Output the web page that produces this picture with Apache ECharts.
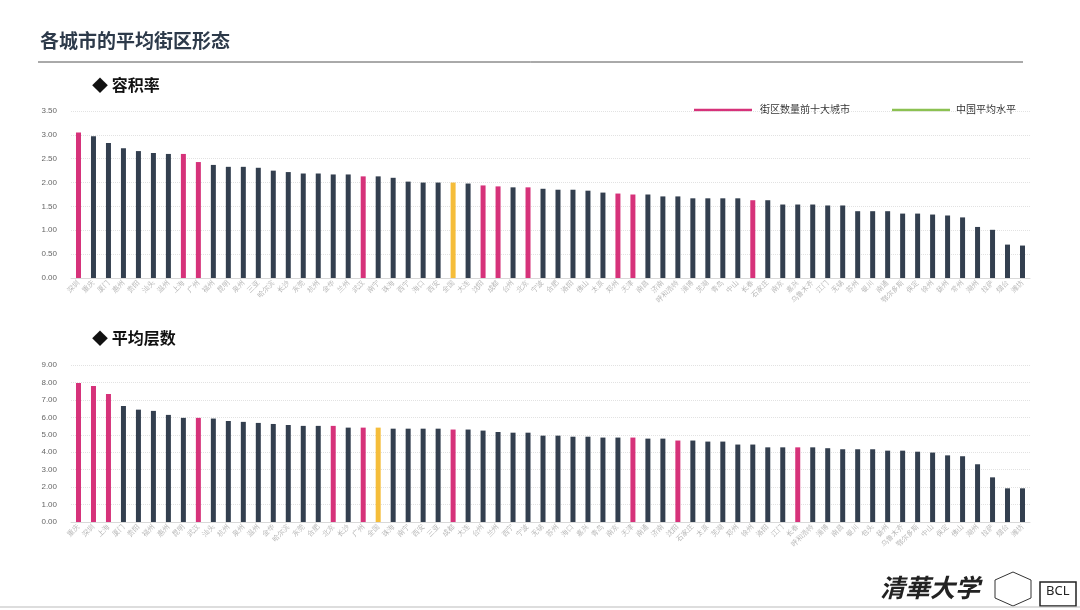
<!DOCTYPE html>
<html><head><meta charset="utf-8">
<script src="https://cdn.jsdelivr.net/npm/echarts@6/dist/echarts.min.js"></script>
<style>html,body{margin:0;padding:0;background:#fff}#c{width:1080px;height:610px}</style>
</head><body><div id="c"></div>
<script>
const farCities = ["深圳","重庆","厦门","惠州","贵阳","汕头","温州","上海","广州","福州","昆明","泉州","三亚","哈尔滨","长沙","东莞","杭州","金华","兰州","武汉","南宁","珠海","西宁","海口","西安","全国","大连","沈阳","成都","台州","北京","宁波","合肥","洛阳","佛山","太原","郑州","天津","南昌","济南","呼和浩特","淄博","芜湖","青岛","中山","长春","石家庄","南京","嘉兴","乌鲁木齐","江门","无锡","苏州","银川","南通","鄂尔多斯","保定","徐州","扬州","常州","湖州","拉萨","烟台","潍坊"];
const farValues = [3.05,2.97,2.83,2.72,2.66,2.62,2.60,2.60,2.43,2.37,2.33,2.33,2.31,2.25,2.22,2.19,2.19,2.17,2.17,2.13,2.13,2.10,2.02,2.00,2.00,2.00,1.98,1.94,1.92,1.90,1.90,1.87,1.85,1.85,1.83,1.79,1.77,1.75,1.75,1.71,1.71,1.67,1.67,1.67,1.67,1.63,1.63,1.54,1.54,1.54,1.52,1.52,1.40,1.40,1.40,1.35,1.35,1.33,1.31,1.27,1.07,1.01,0.70,0.68];
const farTop10 = ["深圳","上海","广州","武汉","沈阳","成都","北京","郑州","天津","长春"];
const floorCities = ["重庆","深圳","上海","厦门","贵阳","福州","惠州","昆明","武汉","汕头","杭州","泉州","温州","金华","哈尔滨","东莞","合肥","北京","长沙","广州","全国","珠海","南宁","西安","三亚","成都","大连","台州","兰州","西宁","宁波","无锡","苏州","海口","嘉兴","青岛","南京","天津","南通","济南","沈阳","石家庄","太原","芜湖","郑州","徐州","洛阳","江门","长春","呼和浩特","淄博","南昌","银川","包头","扬州","乌鲁木齐","鄂尔多斯","中山","保定","佛山","湖州","拉萨","烟台","潍坊"];
const floorValues = [7.97,7.80,7.34,6.65,6.44,6.37,6.14,5.97,5.97,5.93,5.79,5.74,5.68,5.62,5.56,5.51,5.51,5.51,5.41,5.41,5.41,5.35,5.35,5.35,5.35,5.30,5.30,5.24,5.16,5.12,5.12,4.95,4.95,4.89,4.89,4.84,4.84,4.84,4.78,4.78,4.67,4.67,4.61,4.61,4.44,4.44,4.28,4.28,4.28,4.28,4.23,4.17,4.17,4.17,4.09,4.09,4.03,3.98,3.82,3.77,3.31,2.56,1.93,1.93];
const floorTop10 = ["重庆","深圳","上海","武汉","北京","广州","成都","天津","沈阳","长春"];

const DARK='#333f4f', PINK='#d6327a', GOLD='#f5bd3a', GREEN='#8cc152';
function colored(cats, vals, top){
  return vals.map((v,i)=>({value:v,itemStyle:{color: cats[i]==='全国'?GOLD:(top.includes(cats[i])?PINK:DARK)}}));
}
const yAxisCommon = {type:'value',axisLine:{show:false},axisTick:{show:false},
  axisLabel:{color:'#666',fontSize:8,formatter:v=>v.toFixed(2),margin:14},
  splitLine:{lineStyle:{color:'#e2e2e2',type:'dotted'}}};
const xAxisCommon = {type:'category',axisTick:{show:false},axisLine:{lineStyle:{color:'#d9d9d9'}},
  axisLabel:{rotate:45,interval:0,fontSize:7,color:'#b5b5b5',margin:4}};
const chart = echarts.init(document.getElementById('c'));
chart.setOption({
  animation:false,
  grid:[{left:71,right:50,top:111,height:167},{left:71,right:50,top:365,height:157}],
  xAxis:[Object.assign({gridIndex:0,data:farCities},xAxisCommon),Object.assign({gridIndex:1,data:floorCities},xAxisCommon)],
  yAxis:[Object.assign({gridIndex:0,min:0,max:3.5,interval:0.5},yAxisCommon),Object.assign({gridIndex:1,min:0,max:9,interval:1},yAxisCommon)],
  series:[
    {type:'bar',xAxisIndex:0,yAxisIndex:0,barWidth:5,data:colored(farCities,farValues,farTop10)},
    {type:'bar',xAxisIndex:1,yAxisIndex:1,barWidth:5,data:colored(floorCities,floorValues,floorTop10)}
  ],
  graphic:[
    {type:'text',left:40,top:31,style:{text:'各城市的平均街区形态',fontSize:19,fontWeight:'bold',fill:'#2d3a4a',fontFamily:'Noto Sans CJK SC'}},
    {type:'line',shape:{x1:38,y1:62,x2:1023,y2:62},style:{stroke:'#555',lineWidth:1}},
    {type:'text',left:92,top:77,style:{text:'◆ 容积率',fontSize:16,fontWeight:'bold',fill:'#111',fontFamily:'Noto Sans CJK SC'}},
    {type:'text',left:92,top:330,style:{text:'◆ 平均层数',fontSize:16,fontWeight:'bold',fill:'#111',fontFamily:'Noto Sans CJK SC'}},
    {type:'line',shape:{x1:694,y1:110,x2:752,y2:110},style:{stroke:PINK,lineWidth:2.5}},
    {type:'text',left:760,top:104,style:{text:'街区数量前十大城市',fontSize:10,fill:'#333',fontFamily:'Noto Sans CJK SC'}},
    {type:'line',shape:{x1:892,y1:110,x2:950,y2:110},style:{stroke:GREEN,lineWidth:2.5}},
    {type:'text',left:956,top:104,style:{text:'中国平均水平',fontSize:10,fill:'#333',fontFamily:'Noto Sans CJK SC'}},
    {type:'text',left:880,top:575,style:{text:'清華大学',fontSize:25,fontStyle:'italic',fill:'#222',fontFamily:'Noto Sans CJK SC',fontWeight:'bold'}},
    {type:'polygon',shape:{points:[[1013,572],[1031,580],[1031,598],[1013,606],[995,598],[995,580]]},style:{fill:'none',stroke:'#333',lineWidth:1}},
    {type:'rect',shape:{x:1040,y:582,width:36,height:24},style:{fill:'#fff',stroke:'#222',lineWidth:1.5}},
    {type:'text',left:1046,top:585,style:{text:'BCL',fontSize:13,fill:'#222',fontFamily:'Noto Sans'}},
    {type:'line',shape:{x1:0,y1:607,x2:1080,y2:607},style:{stroke:'#bbb',lineWidth:1}}
  ]
});
</script></body></html>
